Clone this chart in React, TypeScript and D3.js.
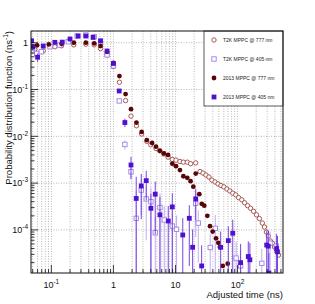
import React from 'react'
import { scaleLog, range } from 'd3'

// T2K MPPC @ 777 nm (open circles)
const tB = [0.054, 0.074, 0.114, 0.146, 0.23, 0.36, 0.49, 0.62, 0.79, 1.0, 1.25, 1.57, 1.92, 2.35, 2.85, 3.45, 4.0, 4.85, 5.6, 6.5, 7.6, 8.9, 10.2, 11.8, 13.4, 15.5, 17.5, 21.2, 24.9, 27.8, 31, 34.6, 38.6, 43.4, 48.4, 54, 60.3, 67.3, 75.1, 83.8, 93.5, 104, 117, 130, 145, 162, 181, 202, 225, 251, 271, 292, 314, 339, 365, 394, 424, 457]
const vB = [0.72, 0.67, 0.82, 0.86, 0.9, 0.93, 0.9, 0.75, 0.55, 0.31, 0.143, 0.058, 0.027, 0.0168, 0.0112, 0.0078, 0.0066, 0.0055, 0.0049, 0.0042, 0.0036, 0.0032, 0.0031, 0.0029, 0.0028, 0.0028, 0.0026, 0.0027, 0.00177, 0.00164, 0.00149, 0.00135, 0.00116, 0.00106, 0.00096, 0.00089, 0.00083, 0.00075, 0.00068, 0.00061, 0.00056, 0.00049, 0.00044, 0.00038, 0.00033, 0.00029, 0.00025, 0.00021, 0.000175, 0.00014, 0.000115, 0.00009, 0.000074, 0.000058, 0.000052, 0.000043, 0.000035, 0.000029]

// T2K MPPC @ 405 nm (open squares)
const tC = [0.05, 0.058, 0.069, 0.095, 0.137, 0.187, 0.26, 0.36, 0.49, 0.62, 0.79, 1.0, 1.24, 1.53, 1.92, 2.33, 2.81, 3.38, 4.02, 4.72, 5.62, 6.6, 8.88, 10.4, 21.2, 23.3, 36.3, 43.8, 95, 112, 246, 334, 420]
const vC = [0.7, 0.59, 0.64, 0.82, 0.89, 1.05, 1.39, 1.46, 1.34, 0.98, 0.55, 0.32, 0.057, 0.0067, 0.00175, 0.000177, 0.00071, 0.00046, 0.0004, 0.000087, 0.0003, 0.000163, 0.000121, 0.000103, 0.00037, 0.00014, 0.000042, 0.000108, 0.000025, 0.000017, 0.0000193, 0.000052, 0.000045]
const eC = [0.1, 0.08, 0.07, 0.05, 0.04, 0.04, 0.05, 0.05, 0.05, 0.04, 0.03, 0.02, 0.006, 0.0015, 0.0006, 0.0005, 0.0005, 0.0004, 0.0004, 0.0001, 0.0003, 0.00016, 0.00012, 0.0001, 0.0003, 0.00012, 0.00004, 0.0001, 0.00003, 0.00002, 0.00002, 0.00004, 0.00004]

// 2013 MPPC @ 777 nm (filled circles)
const tA = [0.059, 0.091, 0.146, 0.23, 0.36, 0.49, 0.62, 0.79, 1.0, 1.25, 1.57, 1.92, 2.35, 2.85, 3.45, 4.2, 4.85, 5.6, 6.5, 7.6, 8.9, 10.2, 11.8, 13.4, 15.5, 17.5, 19.4, 21.2, 24.2, 26.5, 29.1, 32.6, 36, 39.7, 45, 49, 52, 57.7, 69.5]
const vA = [0.88, 0.92, 0.95, 1.0, 1.0, 0.97, 0.85, 0.64, 0.37, 0.194, 0.08, 0.038, 0.0197, 0.0124, 0.0083, 0.0072, 0.006, 0.0049, 0.0043, 0.004, 0.0026, 0.0023, 0.0019, 0.0014, 0.0013, 0.0011, 0.00084, 0.0016, 0.00058, 0.00036, 0.00033, 0.0002, 0.00012, 0.000092, 0.000066, 0.000053, 0.000043, 0.000017, 0.000019]

// 2013 MPPC @ 405 nm (filled squares)
const tD = [0.048, 0.05, 0.06, 0.074, 0.114, 0.15, 0.2, 0.27, 0.36, 0.47, 0.62, 0.79, 1.0, 1.24, 1.53, 1.92, 2.33, 2.81, 3.38, 4.02, 4.72, 5.62, 7.65, 8.88, 13.1, 16.7, 18.9, 21.2, 26.4, 53.5, 71, 83.7, 112, 149, 158, 295, 312, 320, 427, 440]
const vD = [1.1, 0.82, 0.49, 0.85, 1.02, 1.03, 1.2, 1.39, 1.39, 1.3, 1.1, 0.665, 0.36, 0.093, 0.0197, 0.00244, 0.00047, 0.00087, 0.00113, 0.00029, 0.00058, 0.00021, 0.000155, 0.00031, 0.000078, 0.000177, 0.0000425, 0.00046, 0.000017, 0.0000425, 0.000059, 0.000085, 0.00002, 0.000027, 0.000023, 0.0000475, 0.000045, 0.000012, 0.00004, 0.000034]
const eD = [0.15, 0.12, 0.1, 0.06, 0.04, 0.04, 0.04, 0.05, 0.05, 0.05, 0.04, 0.03, 0.02, 0.008, 0.004, 0.0012, 0.0009, 0.0007, 0.0007, 0.0003, 0.0005, 0.0003, 0.00017, 0.0003, 0.0001, 0.00016, 0.00006, 0.0003, 0.00003, 0.00005, 0.00006, 0.00008, 0.00003, 0.00003, 0.00003, 0.00005, 0.00005, 0.00002, 0.00004, 0.00004]

const legendLabels = ['T2K MPPC @ 777 nm', 'T2K MPPC @ 405 nm', '2013 MPPC @ 777 nm', '2013 MPPC @ 405 nm']
const xTicks = [0.1, 1, 10, 100]
const yTicks = [1, 0.1, 0.01, 0.001, 0.0001]

const RED = '#5a0505'
const RED_OPEN = '#9a4a45'
const BLUE = '#5010d0'
const BLUE_OPEN = '#9c80e6'
const FONT = 'Liberation Sans, Arial, Helvetica, sans-serif'

// frame
const left = 31, right = 283, top = 31, bottom = 273

const x = scaleLog().domain([0.047, 540]).range([left, right])
const y = scaleLog().domain([1.2e-5, 1.78]).range([bottom, top])

// minor positions on a log axis
const minors = (lo: number, hi: number) => {
  const out: number[] = []
  for (let e = Math.floor(Math.log10(lo)); e <= Math.ceil(Math.log10(hi)); e++) {
    range(1, 10).forEach(k => {
      const v = k * Math.pow(10, e)
      if (v >= lo && v <= hi) out.push(v)
    })
  }
  return out
}

const Pow = ({ v }: { v: number }) => {
  const e = Math.round(Math.log10(v))
  if (e === 0) return <tspan>1</tspan>
  if (e === 1) return <tspan>10</tspan>
  return (
    <>
      <tspan>10</tspan>
      <tspan dy={-4} fontSize={6.5}>{e}</tspan>
    </>
  )
}

const Marker = ({ kind, cx, cy }: { kind: string; cx: number; cy: number }) => {
  if (kind === 'oc') return <circle cx={cx} cy={cy} r={2.2} fill="white" stroke={RED_OPEN} strokeWidth={0.9} />
  if (kind === 'fc') return <circle cx={cx} cy={cy} r={2.4} fill={RED} />
  if (kind === 'os') return <rect x={cx - 2.2} y={cy - 2.2} width={4.4} height={4.4} fill="white" stroke={BLUE_OPEN} strokeWidth={0.9} />
  return <rect x={cx - 2.4} y={cy - 2.4} width={4.8} height={4.8} fill={BLUE} />
}

const Series = ({ ts, vs, es, kind, barColor }: { ts: number[]; vs: number[]; es?: number[]; kind: string; barColor: string }) => (
  <g>
    {es && ts.map((t, i) => {
      const lo = vs[i] - es[i]
      const y1 = y(vs[i] + es[i])
      const y2 = lo > 1.2e-5 ? y(lo) : bottom
      return <line key={'e' + i} x1={x(t)} x2={x(t)} y1={y1} y2={y2} stroke={barColor} strokeWidth={0.9} />
    })}
    {ts.map((t, i) => <Marker key={i} kind={kind} cx={x(t)} cy={y(vs[i])} />)}
  </g>
)

export default function App() {
  const xMin = minors(0.047, 540)
  const yMin = minors(1.2e-5, 1.78)
  const legendKinds = ['oc', 'os', 'fc', 'fs']
  return (
    <svg width={315} height={304} style={{ position: 'fixed', left: 0, top: 0, background: 'white' }} fontFamily={FONT}>
      <defs>
        <clipPath id="plot">
          <rect x={left} y={top} width={right - left} height={bottom - top} />
        </clipPath>
      </defs>
      <rect width={315} height={304} fill="white" />

      {/* grid */}
      <g stroke="#8a8a8a" strokeWidth={0.6} strokeDasharray="1,1.5">
        {xMin.map(v => <line key={v} x1={x(v)} x2={x(v)} y1={top} y2={bottom} />)}
        {yTicks.map(v => <line key={v} x1={left} x2={right} y1={y(v)} y2={y(v)} />)}
      </g>

      {/* data */}
      <g clipPath="url(#plot)">
        <Series ts={tB} vs={vB} kind="oc" barColor={RED_OPEN} />
        <Series ts={tC} vs={vC} es={eC} kind="os" barColor="#b8a4f0" />
        <Series ts={tA} vs={vA} kind="fc" barColor={RED} />
        <Series ts={tD} vs={vD} es={eD} kind="fs" barColor="#6a30e0" />
      </g>

      {/* legend */}
      <rect x={204} y={top} width={right - 204} height={75} fill="white" stroke="#333" strokeWidth={0.8} />
      {legendLabels.map((l, i) => (
        <g key={l}>
          <Marker kind={legendKinds[i]} cx={214} cy={40 + i * 19} />
          <text x={223} y={41.8 + i * 19} fontSize={5} fill="#222">{l}</text>
        </g>
      ))}

      {/* frame + ticks */}
      <rect x={left} y={top} width={right - left} height={bottom - top} fill="none" stroke="#111" strokeWidth={1} />
      <g stroke="#111" strokeWidth={0.8}>
        {xMin.map(v => {
          const major = xTicks.includes(v)
          return <line key={v} x1={x(v)} x2={x(v)} y1={bottom} y2={bottom - (major ? 8 : 4)} />
        })}
        {yMin.map(v => {
          const major = Math.abs(Math.log10(v) - Math.round(Math.log10(v))) < 1e-6
          return <line key={v} x1={left} x2={left + (major ? 7 : 3.5)} y1={y(v)} y2={y(v)} />
        })}
      </g>

      {/* tick labels */}
      <g fontSize={9} fill="#111">
        {xTicks.map(v => (
          <text key={v} x={x(v)} y={288} textAnchor="middle"><Pow v={v} /></text>
        ))}
        {yTicks.map(v => (
          <text key={v} x={28} y={y(v) + 3.2} textAnchor="end"><Pow v={v} /></text>
        ))}
      </g>

      {/* axis titles */}
      <text x={right} y={298} textAnchor="end" fontSize={9.5} fill="#111">Adjusted time (ns)</text>
      <text transform={`translate(11.5, ${top}) rotate(-90)`} textAnchor="end" fontSize={9.5} fill="#111">
        Probability distribution function (ns<tspan dy={-4} fontSize={6.5}>-1</tspan><tspan dy={4}>)</tspan>
      </text>
    </svg>
  )
}
